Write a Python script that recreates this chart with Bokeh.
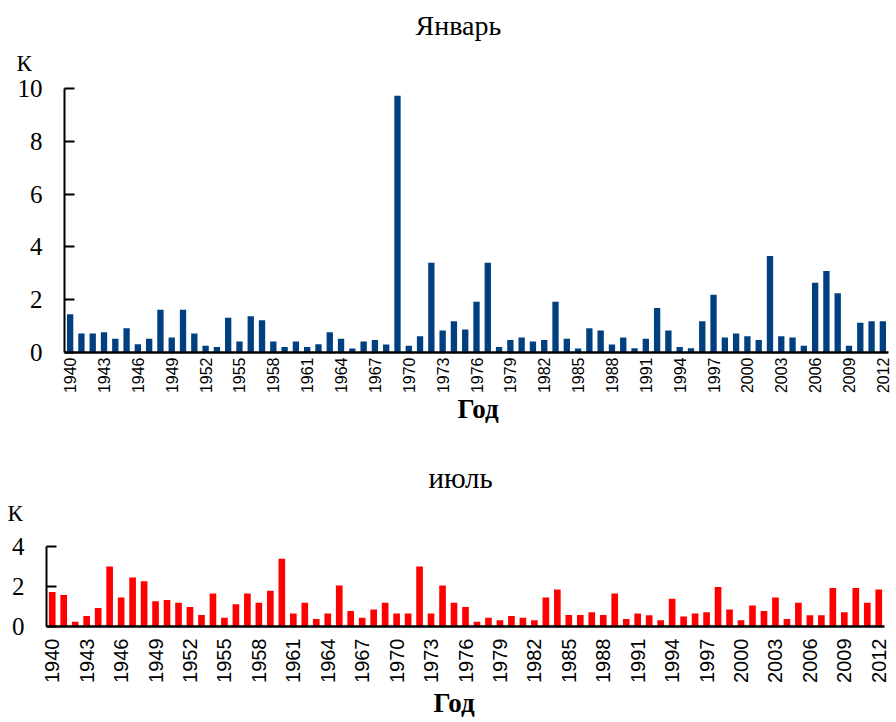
import math
from bokeh.plotting import figure
from bokeh.models import Range1d, FixedTicker, Title, ColumnDataSource
from bokeh.embed import file_html
from bokeh.resources import INLINE

years = list(range(1940, 2013))

january = [1.45, 0.72, 0.72, 0.77, 0.52, 0.92, 0.31, 0.52, 1.62, 0.57,
           1.62, 0.72, 0.26, 0.21, 1.32, 0.42, 1.37, 1.22, 0.42, 0.21,
           0.42, 0.21, 0.31, 0.77, 0.52, 0.15, 0.42, 0.47, 0.30, 9.73,
           0.26, 0.62, 3.40, 0.83, 1.18, 0.87, 1.92, 3.40, 0.21, 0.47,
           0.57, 0.42, 0.47, 1.92, 0.52, 0.15, 0.92, 0.83, 0.30, 0.57,
           0.16, 0.52, 1.69, 0.83, 0.21, 0.16, 1.18, 2.19, 0.57, 0.72,
           0.62, 0.47, 3.66, 0.62, 0.57, 0.26, 2.64, 3.09, 2.24, 0.26,
           1.13, 1.18, 1.18]

july = [1.73, 1.58, 0.24, 0.52, 0.92, 3.00, 1.45, 2.45, 2.26, 1.26,
        1.32, 1.19, 0.98, 0.58, 1.65, 0.44, 1.11, 1.65, 1.19, 1.79,
        3.39, 0.65, 1.19, 0.37, 0.65, 2.05, 0.77, 0.44, 0.85, 1.19,
        0.65, 0.65, 3.00, 0.65, 2.05, 1.19, 0.98, 0.24, 0.44, 0.31,
        0.52, 0.44, 0.31, 1.45, 1.85, 0.58, 0.58, 0.71, 0.57, 1.65,
        0.37, 0.65, 0.56, 0.31, 1.39, 0.50, 0.65, 0.71, 1.98, 0.85,
        0.31, 1.05, 0.77, 1.45, 0.37, 1.19, 0.56, 0.56, 1.92, 0.71,
        1.92, 1.19, 1.85]

tick_years = list(range(1940, 2013, 3))
tick_labels = [str(y) for y in tick_years]

title_top = "Январь"
title_bottom = "июль"
y_unit = "К"
x_title = "Год"

SERIF = "Liberation Serif"
SANS = "Liberation Sans"


def make_panel(values, color, ymax, yticks, height, borders, xlabel_size,
               xlabel_standoff, bar_width, title_text, title_size, title_off,
               title_standoff, unit_off, unit_standoff, xt_off, xt_standoff):
    bl, br, bt, bb = borders
    p = figure(width=896, height=height, output_backend="svg", toolbar_location=None,
               x_range=Range1d(1939.5, 2012.5), y_range=Range1d(0, ymax),
               min_border_left=bl, min_border_right=br, min_border_top=bt,
               min_border_bottom=bb, title_location=None)
    p.outline_line_color = None
    p.xgrid.visible = False
    p.ygrid.visible = False
    p.background_fill_color = "white"
    p.border_fill_color = "white"

    src = ColumnDataSource(dict(x=years, top=values))
    p.vbar(x="x", top="top", bottom=0, width=bar_width, source=src,
           fill_color=color, line_color=None)

    xa = p.xaxis[0]
    xa.ticker = FixedTicker(ticks=tick_years)
    xa.major_label_overrides = {t: l for t, l in zip(tick_years, tick_labels)}
    xa.major_label_orientation = math.pi / 2
    xa.major_tick_in = 0
    xa.major_tick_out = 0
    xa.minor_tick_line_color = None
    xa.axis_line_width = 2.5
    xa.axis_line_color = "black"
    xa.major_label_text_font = SANS
    xa.major_label_text_font_size = xlabel_size
    xa.major_label_text_color = "black"
    xa.major_label_standoff = xlabel_standoff

    ya = p.yaxis[0]
    ya.ticker = FixedTicker(ticks=yticks)
    ya.major_tick_in = 10
    ya.major_tick_out = 0
    ya.major_tick_line_width = 2
    ya.minor_tick_line_color = None
    ya.axis_line_width = 2
    ya.axis_line_color = "black"
    ya.major_label_text_font = SERIF
    ya.major_label_text_font_size = "25px"
    ya.major_label_text_color = "black"
    ya.major_label_standoff = 22

    # unit label (closest to frame), then chart title above it
    p.add_layout(Title(text=y_unit, align="left", offset=unit_off,
                       standoff=unit_standoff, text_font=SERIF,
                       text_font_size="23px", text_font_style="normal",
                       text_color="black"), "above")
    p.add_layout(Title(text=title_text, align="left", offset=title_off,
                       standoff=title_standoff, text_font=SERIF,
                       text_font_size=title_size, text_font_style="normal",
                       text_color="black"), "above")
    p.add_layout(Title(text=x_title, align="left", offset=xt_off,
                       standoff=xt_standoff, vertical_align="top", text_font=SERIF,
                       text_font_size="27px", text_font_style="bold",
                       text_color="black"), "below")
    return p


p1 = make_panel(january, "#003F80", 10, [0, 2, 4, 6, 8, 10], 427,
                (64, 8, 88, 75), "16px", 5, 0.56,
                title_top, "28px", 351, -10, -48, 26, 393, -6)
p2 = make_panel(july, "#FF0000", 4, [0, 2, 4], 295,
                (46, 12, 119, 94), "20px", 12, 0.58,
                title_bottom, "29px", 382, -32, -39, 42, 387, 5)

open("out.html", "w").write(file_html([p1, p2], INLINE))
